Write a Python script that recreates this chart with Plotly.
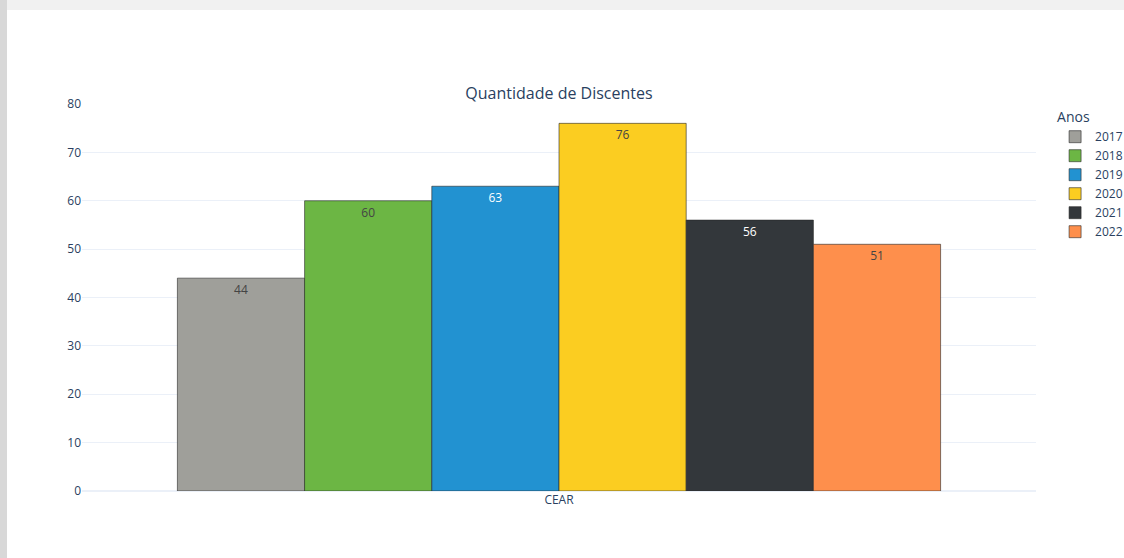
import plotly.graph_objects as go

categories = ["CEAR"]
years = ["2017", "2018", "2019", "2020", "2021", "2022"]
values = [44, 60, 63, 76, 56, 51]
colors = ["#9f9f9a", "#6cb644", "#2292d1", "#fbcd21", "#33373b", "#fe8f4c"]

fig = go.Figure()
for yr, v, c in zip(years, values, colors):
    fig.add_trace(go.Bar(
        x=categories, y=[v], name=yr, text=[v], textposition="auto",
        marker=dict(color=c, line=dict(color="rgba(40,40,40,0.6)", width=1)),
        textfont=dict(size=12),
    ))

W, H = 1124, 558
L, R, T, B = 82, 88, 104, 67
pw, ph = W - L - R, H - T - B

def px_x(p):
    return (p - L) / pw

def px_y(p):
    return (H - B - p) / ph

fig.update_layout(
    template="plotly_white",
    width=W, height=H,
    margin=dict(l=L, r=R, t=T, b=B, autoexpand=False),
    barmode="group",
    title=dict(text="Quantidade de Discentes", x=0.5, xref="paper", y=1 - 93 / H, yanchor="middle",
               font=dict(size=16)),
    legend=dict(title=dict(text="Anos", font=dict(size=14)), x=1.02, y=1.0, yanchor="top",
                font=dict(size=12)),
    yaxis=dict(range=[0, 80], dtick=10),
    shapes=[
        dict(type="rect", xref="paper", yref="paper", x0=px_x(0), x1=px_x(W), y0=px_y(10), y1=px_y(0),
             fillcolor="#f1f1f1", line=dict(width=0), layer="above"),
        dict(type="rect", xref="paper", yref="paper", x0=px_x(0), x1=px_x(7), y0=px_y(H), y1=px_y(0),
             fillcolor="#d8d8d8", line=dict(width=0), layer="above"),
    ],
)

fig.write_html(
    "out.html",
    config={"displayModeBar": False},
    post_script="document.body.style.margin='0';document.body.style.overflow='hidden';",
)
